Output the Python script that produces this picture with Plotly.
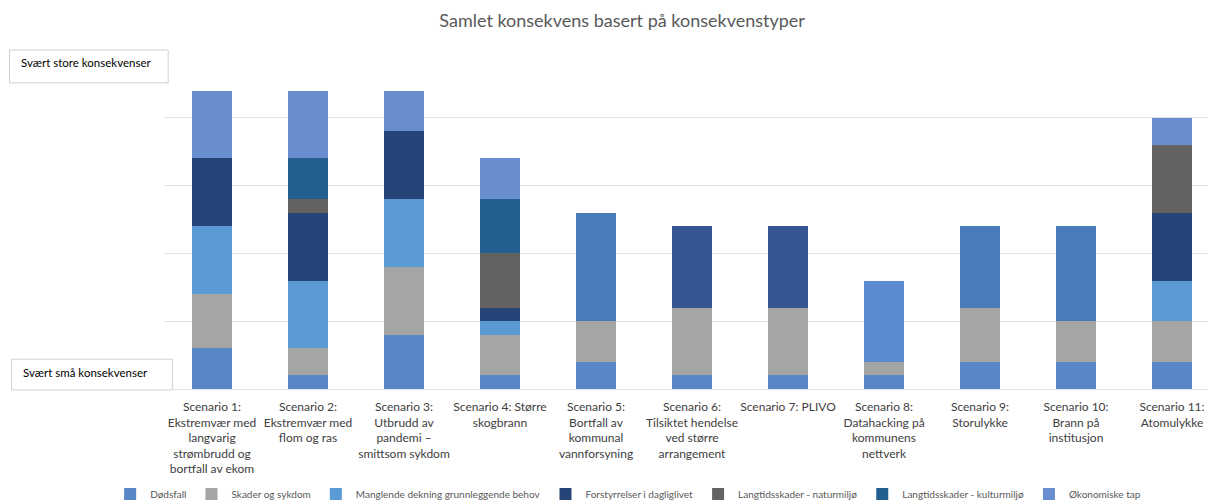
import plotly.graph_objects as go

categories = [
    "Scenario 1:<br>Ekstremvær med<br>langvarig<br>strømbrudd og<br>bortfall av ekom",
    "Scenario 2:<br>Ekstremvær med<br>flom og ras",
    "Scenario 3:<br>Utbrudd av<br>pandemi –<br>smittsom sykdom",
    "Scenario 4: Større<br>skogbrann",
    "Scenario 5:<br>Bortfall av<br>kommunal<br>vannforsyning",
    "Scenario 6:<br>Tilsiktet hendelse<br>ved større<br>arrangement",
    "Scenario 7: PLIVO",
    "Scenario 8:<br>Datahacking på<br>kommunens<br>nettverk",
    "Scenario 9:<br>Storulykke",
    "Scenario 10:<br>Brann på<br>institusjon",
    "Scenario 11:<br>Atomulykke",
]

dodsfall = [3, 1, 4, 1, 2, 1, 1, 1, 2, 2, 2]
skader = [4, 2, 5, 3, 3, 5, 5, 1, 4, 3, 3]
manglende = [5, 5, 5, 1, 0, 0, 0, 0, 0, 0, 3]
forstyrrelser = [5, 5, 5, 1, 0, 0, 0, 0, 0, 0, 5]
natur = [0, 1, 0, 4, 0, 0, 0, 0, 0, 0, 5]
kultur = [0, 3, 0, 4, 0, 0, 0, 0, 0, 0, 0]
okonomiske = [5, 5, 3, 3, 0, 0, 0, 0, 0, 0, 2]
samlet = [0, 0, 0, 0, 8, 6, 6, 6, 6, 7, 0]
samlet_colors = ["#4a7cbc", "#4a7cbc", "#4a7cbc", "#4a7cbc", "#4a7cbc", "#365693",
                 "#365693", "#5a8ad0", "#4a7cbc", "#4a7cbc", "#4a7cbc"]

series = [
    ("Dødsfall", dodsfall, "#5886c6"),
    ("Skader og sykdom", skader, "#a5a5a5"),
    ("Manglende dekning grunnleggende behov", manglende, "#5b9bd5"),
    ("Forstyrrelser i dagliglivet", forstyrrelser, "#264478"),
    ("Langtidsskader - naturmiljø", natur, "#636363"),
    ("Langtidsskader - kulturmiljø", kultur, "#255e91"),
    ("Økonomiske tap", okonomiske, "#698ed0"),
]

fig = go.Figure()
for name, vals, col in series:
    fig.add_trace(go.Bar(x=categories, y=vals, name=name, marker_color=col,
                         marker_line_width=0, width=0.41))
fig.add_trace(go.Bar(x=categories, y=samlet, name="Samlet", showlegend=False,
                     marker_color=samlet_colors, marker_line_width=0, width=0.41))

fig.update_layout(
    barmode="stack",
    width=1208, height=501,
    margin=dict(l=164, r=0, t=50, b=112),
    plot_bgcolor="white", paper_bgcolor="white",
    font=dict(family="Lato, Open Sans, sans-serif", color="#595959"),
    title=dict(text="Samlet konsekvens basert på konsekvenstyper", x=0.515, xanchor="center",
               y=0.958, yanchor="middle", font=dict(size=18, color="#595959")),
    legend=dict(orientation="h", xref="container", yref="container", x=0.52, xanchor="center",
                y=0.014, yanchor="middle", font=dict(size=10, color="#595959"),
                itemwidth=30, traceorder="normal"),
    bargap=0.59,
)
fig.update_xaxes(range=[-0.5, 10.375], showline=False, ticks="", ticklabelstandoff=9,
                 tickfont=dict(size=12, color="#404040"), fixedrange=True)
fig.update_yaxes(range=[0, 25], dtick=5, showticklabels=False, showgrid=True,
                 gridcolor="#e2e2e2", zeroline=True, zerolinecolor="#e2e2e2",
                 zerolinewidth=1)

fig.add_shape(type="rect", xref="paper", yref="paper", x0=-0.148, x1=0.004, y0=0.903, y1=1.0,
              line=dict(color="#d0d0d0", width=1), fillcolor="white", layer="above")
fig.add_shape(type="rect", xref="paper", yref="paper", x0=-0.146, x1=0.008, y0=-0.003, y1=0.088,
              line=dict(color="#d0d0d0", width=1), fillcolor="white", layer="above")
fig.add_annotation(xref="paper", yref="paper", x=-0.139, y=0.962, xanchor="left", yanchor="middle",
                   text="Svært store konsekvenser", showarrow=False,
                   font=dict(size=11.5, color="#000000"))
fig.add_annotation(xref="paper", yref="paper", x=-0.137, y=0.05, xanchor="left", yanchor="middle",
                   text="Svært små konsekvenser", showarrow=False,
                   font=dict(size=11.5, color="#000000"))

fig.write_html("out.html")
